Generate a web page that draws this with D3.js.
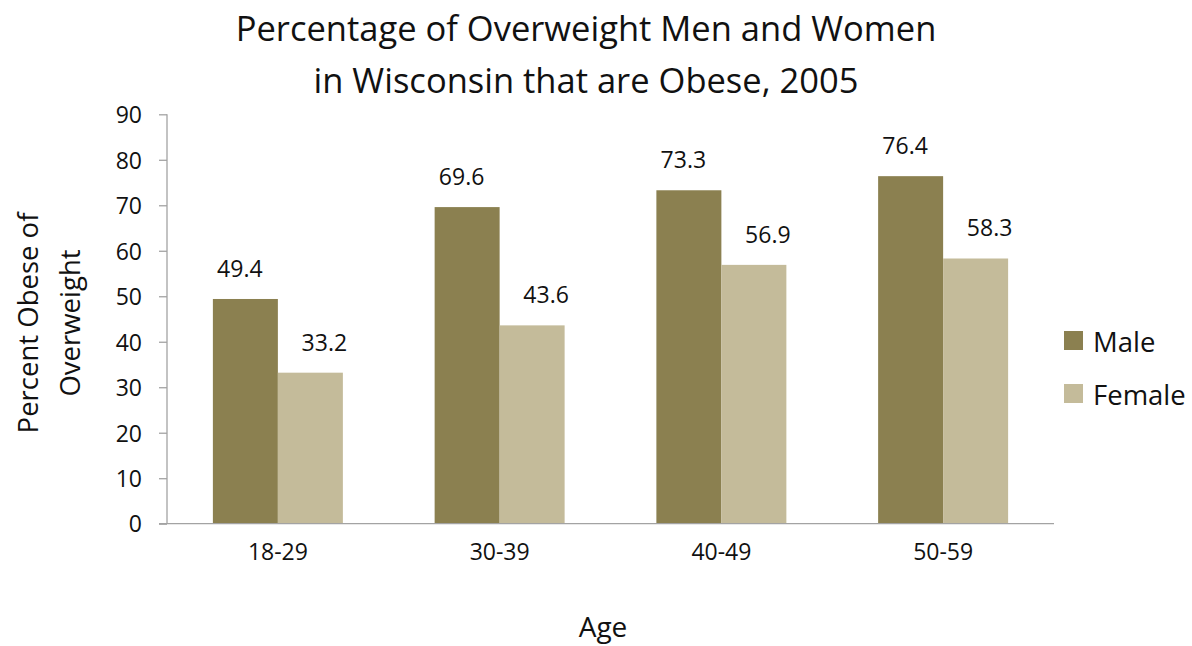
<!DOCTYPE html>
<html>
<head>
<meta charset="utf-8">
<script src="https://cdn.jsdelivr.net/npm/d3@7"></script>
<style>
  html, body { margin: 0; padding: 0; background: #fff; }
  svg { display: block; font-family: "Open Sans", sans-serif; }
</style>
</head>
<body>
<svg id="chart" width="1192" height="646"></svg>
<script>
const categories = ["18-29", "30-39", "40-49", "50-59"];
const seriesNames = ["Male", "Female"];
const maleValues = [49.4, 69.6, 73.3, 76.4];
const femaleValues = [33.2, 43.6, 56.9, 58.3];
const yTicks = [0, 10, 20, 30, 40, 50, 60, 70, 80, 90];
const titleLines = ["Percentage of Overweight Men and Women", "in Wisconsin that are Obese, 2005"];
const yTitleLines = ["Percent Obese of", "Overweight"];
const xTitle = "Age";

(function () {
const colors = { Male: "#8b8050", Female: "#c4bb9a" };
const labelShift = { Male: -5.5, Female: 14 };
const axisColor = "#a3a3a3";
const textColor = "#111";

const svg = d3.select("#chart");
const pLeft = 167, pRight = 1054, pTop = 114.3, pBottom = 523.7;

const x = d3.scaleBand().domain(categories).range([pLeft, pRight])
  .paddingInner(0.4138).paddingOuter(0.2069);
const xs = d3.scaleBand().domain(seriesNames).range([0, x.bandwidth()]).padding(0);
const y = d3.scaleLinear().domain([0, 90]).range([pBottom, pTop]);

const rows = categories.map((c, i) => ({ cat: c, Male: maleValues[i], Female: femaleValues[i] }));

// Bars
const groups = svg.append("g").selectAll("g").data(rows).join("g")
  .attr("transform", d => `translate(${x(d.cat)},0)`);
groups.selectAll("rect").data(d => seriesNames.map(s => ({ s, v: d[s] }))).join("rect")
  .attr("x", d => xs(d.s))
  .attr("y", d => y(d.v))
  .attr("width", xs.bandwidth())
  .attr("height", d => y(0) - y(d.v))
  .attr("fill", d => colors[d.s]);

// Data labels
groups.selectAll("text").data(d => seriesNames.map(s => ({ s, v: d[s] }))).join("text")
  .attr("x", d => xs(d.s) + xs.bandwidth() / 2 + labelShift[d.s])
  .attr("y", d => y(d.v) - 22)
  .attr("text-anchor", "middle")
  .attr("font-size", 23)
  .attr("fill", textColor)
  .text(d => d.v.toFixed(1));

// Y axis
const yAxis = d3.axisLeft(y).tickValues(yTicks).tickSize(8).tickPadding(17);
const gy = svg.append("g").attr("transform", `translate(${pLeft},0)`).call(yAxis);
gy.select(".domain").attr("stroke", axisColor).attr("stroke-width", 1.3)
  .attr("d", `M0,${pTop}V${pBottom}`);
gy.selectAll(".tick line").attr("stroke", axisColor).attr("stroke-width", 1.3);
gy.selectAll(".tick text").attr("font-size", 23).attr("fill", textColor)
  .attr("font-family", "Open Sans, sans-serif").attr("dy", "0.36em");

// X axis
const xAxis = d3.axisBottom(x).tickSize(0).tickPadding(36);
const gx = svg.append("g").attr("transform", `translate(0,${pBottom})`).call(xAxis);
gx.select(".domain").attr("stroke", axisColor).attr("stroke-width", 1.3)
  .attr("d", `M${pLeft - 8},0H${pRight}`);
gx.selectAll(".tick text").attr("font-size", 23).attr("fill", textColor)
  .attr("font-family", "Open Sans, sans-serif").attr("dy", "0");

// Title
svg.append("text").attr("text-anchor", "middle").attr("font-size", 34.5).attr("fill", textColor)
  .selectAll("tspan").data(titleLines).join("tspan")
  .attr("x", 586).attr("y", (d, i) => 41 + i * 52).text(d => d);

// Y title
svg.append("text").attr("transform", "translate(0,323) rotate(-90)")
  .attr("text-anchor", "middle").attr("font-size", 27.5).attr("fill", textColor)
  .selectAll("tspan").data(yTitleLines).join("tspan")
  .attr("x", 0).attr("y", (d, i) => 38 + i * 42).text(d => d);

// X title
svg.append("text").attr("x", 603).attr("y", 637).attr("text-anchor", "middle")
  .attr("font-size", 28).attr("fill", textColor).text(xTitle);

// Legend
const leg = svg.append("g").selectAll("g").data(seriesNames).join("g")
  .attr("transform", (d, i) => `translate(1064,${331 + i * 53})`);
leg.append("rect").attr("width", 19).attr("height", 19).attr("fill", d => colors[d]);
leg.append("text").attr("x", 29).attr("y", 21).attr("font-size", 27.5).attr("fill", textColor).text(d => d);
})();
</script>
</body>
</html>
